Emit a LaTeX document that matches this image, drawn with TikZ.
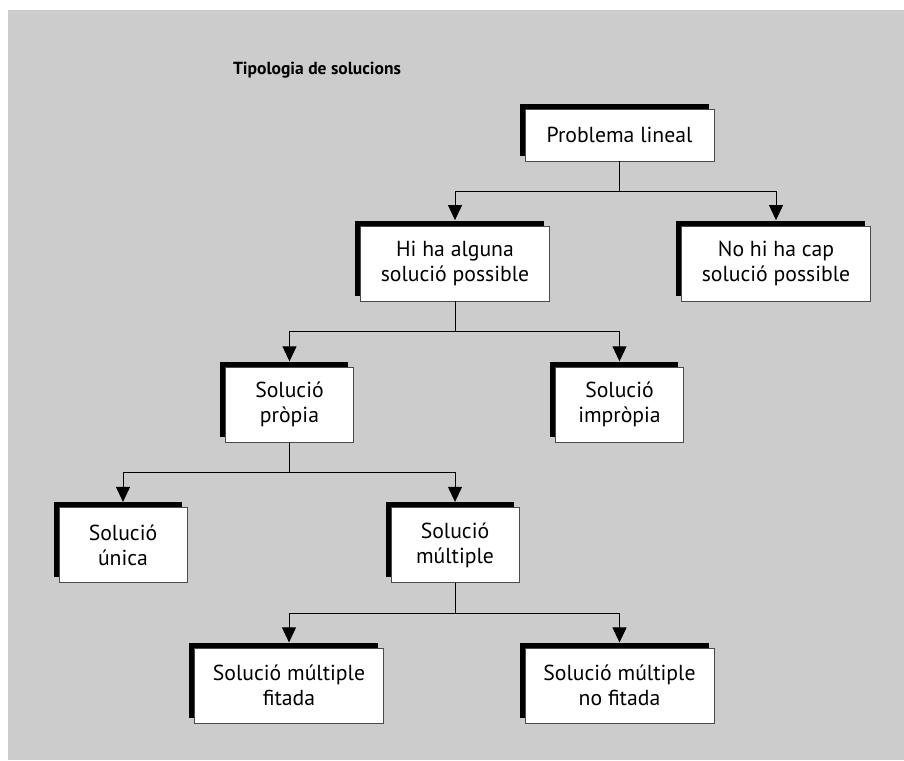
\documentclass[tikz,border=0pt]{standalone}
\usepackage{fontspec}
\setmainfont{PT Sans}
\usetikzlibrary{arrows.meta,shadows}
\definecolor{panel}{HTML}{CCCCCC}
\definecolor{edge}{HTML}{4A4A4A}
\tikzset{
  box/.style={draw=edge, line width=0.8pt, fill=white, inner sep=0pt,
    minimum height=75pt, align=center,
    font=\fontsize{21.7}{25}\selectfont,
    general shadow={fill=black, shadow xshift=-5.5pt, shadow yshift=5.5pt}},
  wide/.style={box, minimum width=189pt},
  narrow/.style={box, minimum width=128pt},
  conn/.style={draw=black, line width=0.9pt,
    -{Triangle[width=14pt,length=15pt]}, shorten >=5.5pt},
}
\begin{document}
\begin{tikzpicture}[x=1pt,y=-1pt]
  \useasboundingbox (0,0) rectangle (904,760);
  \fill[panel] (8,10) rectangle (904,760);

  \node[font=\fontsize{17.5}{20}\selectfont\bfseries] (title) at (317,70) {Tipologia de solucions};

  \node[wide, minimum height=52pt] (lineal) at (619.5,135) {Problema lineal};
  \node[wide] (alguna) at (455,263.5) {Hi ha alguna\\solució possible};
  \node[wide] (cap) at (776,263.5) {No hi ha cap\\solució possible};
  \node[narrow] (propia) at (289.5,404.7) {Solució\\pròpia};
  \node[narrow] (impropia) at (619.5,404.7) {Solució\\impròpia};
  \node[narrow] (unica) at (123,545.3) {Solució\\única};
  \node[narrow] (multiple) at (455,545.3) {Solució\\múltiple};
  \node[wide] (fitada) at (289,685.8) {Solució múltiple\\fitada};
  \node[wide] (nofitada) at (619.5,685.8) {Solució múltiple\\no fitada};

  \coordinate (j1) at ([yshift=-30pt]lineal.south);
  \coordinate (j2) at ([yshift=-30pt]alguna.south);
  \coordinate (j3) at ([yshift=-30pt]propia.south);
  \coordinate (j4) at ([yshift=-30pt]multiple.south);

  \draw[line width=0.9pt] (lineal.south) -- (j1);
  \draw[conn] (j1) -| (alguna.north);
  \draw[conn] (j1) -| (cap.north);

  \draw[line width=0.9pt] (alguna.south) -- (j2);
  \draw[conn] (j2) -| (propia.north);
  \draw[conn] (j2) -| (impropia.north);

  \draw[line width=0.9pt] (propia.south) -- (j3);
  \draw[conn] (j3) -| (unica.north);
  \draw[conn] (j3) -| (multiple.north);

  \draw[line width=0.9pt] (multiple.south) -- (j4);
  \draw[conn] (j4) -| (fitada.north);
  \draw[conn] (j4) -| (nofitada.north);
\end{tikzpicture}
\end{document}
